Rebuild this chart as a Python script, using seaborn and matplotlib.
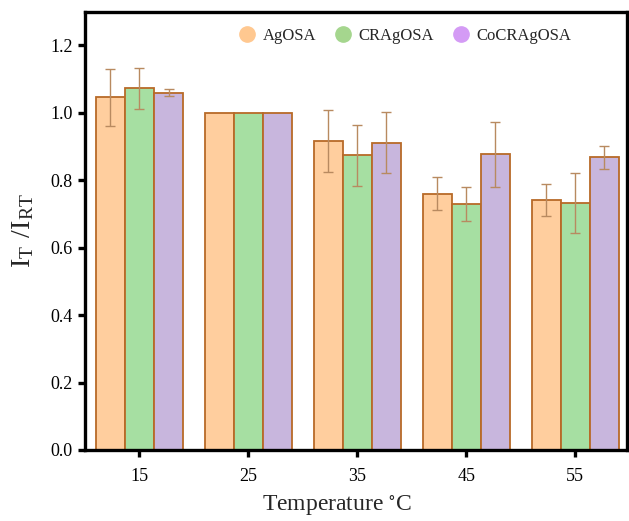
import matplotlib
matplotlib.use("Agg")
import matplotlib.pyplot as plt
from matplotlib.lines import Line2D
import seaborn as sns
import pandas as pd
import numpy as np

temperatures = ["15", "25", "35", "45", "55"]
series_names = ["AgOSA", "CRAgOSA", "CoCRAgOSA"]
agosa = [1.045, 1.000, 0.916, 0.760, 0.740]
cragosa = [1.072, 1.000, 0.873, 0.728, 0.732]
cocragosa = [1.059, 1.000, 0.911, 0.876, 0.867]
agosa_err = [0.085, 0.0, 0.091, 0.048, 0.048]
cragosa_err = [0.060, 0.0, 0.090, 0.050, 0.090]
cocragosa_err = [0.010, 0.0, 0.090, 0.097, 0.034]

values = [agosa, cragosa, cocragosa]
errors = [agosa_err, cragosa_err, cocragosa_err]

rows = []
for name, vals in zip(series_names, values):
    for t, v in zip(temperatures, vals):
        rows.append({"Temperature": t, "Series": name, "Value": v})
df = pd.DataFrame(rows)

sns.set_style("ticks")
plt.rcParams["font.family"] = ["Liberation Serif", "DejaVu Serif"]
plt.rcParams["mathtext.fontset"] = "custom"
plt.rcParams["mathtext.rm"] = "Liberation Serif"

fill_colors = ["#FFCE9E", "#A6DFA2", "#C8B6DD"]
legend_colors = ["#FFC890", "#A5D68E", "#D49BF5"]
edge = "#B86A28"
err_color = "#B88A60"

fig = plt.figure(figsize=(6.29, 5.21), dpi=100)
ax = fig.add_axes([85 / 629, 71 / 521, 542 / 629, 438 / 521])

sns.barplot(data=df, x="Temperature", y="Value", hue="Series",
            order=temperatures, hue_order=series_names,
            palette=fill_colors, saturation=1, errorbar=None, width=0.8,
            edgecolor=edge, linewidth=1.3, ax=ax, legend=False)

for cont, errs in zip(ax.containers, errors):
    xs = [p.get_x() + p.get_width() / 2 for p in cont.patches]
    ys = [p.get_height() for p in cont.patches]
    e = np.array(errs)
    mask = e > 0
    ax.errorbar(np.array(xs)[mask], np.array(ys)[mask], yerr=e[mask],
                fmt="none", ecolor=err_color, elinewidth=1.0,
                capsize=3.5, capthick=1.0, zorder=5)

ax.set_xlim(-0.5, 4.475)
ax.set_ylim(0, 1.298)
ax.set_yticks([0.0, 0.2, 0.4, 0.6, 0.8, 1.0, 1.2])
ax.set_yticklabels(["0.0", "0.2", "0.4", "0.6", "0.8", "1.0", "1.2"])

for s in ax.spines.values():
    s.set_visible(True)
    s.set_linewidth(2.4)
    s.set_color("black")
ax.tick_params(axis="both", direction="out", length=5, width=2.4,
               labelsize=13, colors="black")
ax.tick_params(axis="x", pad=8)
ax.tick_params(axis="y", pad=4)

ax.set_xlabel(r"Temperature $\mathregular{^{\circ}}$C", fontsize=17)
ax.xaxis.set_label_coords(0.465, -0.098)
ax.set_ylabel(r"$\mathregular{I_T\ /I_{RT}}$", fontsize=20, labelpad=10)

handles = [Line2D([0], [0], marker="o", linestyle="none", markersize=11,
                  markerfacecolor=c, markeredgecolor=c) for c in legend_colors]
ax.legend(handles, series_names, loc="center", bbox_to_anchor=(0.587, 0.945),
          ncol=3, frameon=False, fontsize=12, handletextpad=0.15,
          columnspacing=0.9, handlelength=1.5)

fig.savefig("out.png", dpi=100)
